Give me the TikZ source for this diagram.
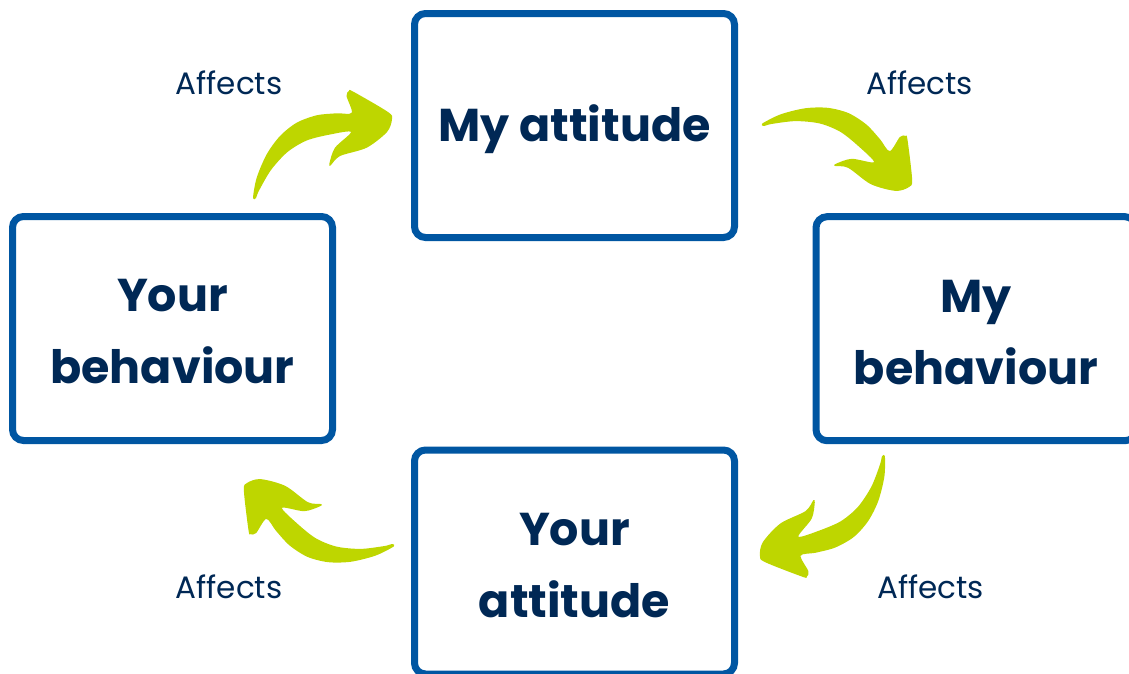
\documentclass[tikz,border=0pt]{standalone}
\usepackage{fontspec}
\setmainfont{Poppins}
\definecolor{boxblue}{HTML}{0056A2}
\definecolor{navy}{HTML}{002855}
\definecolor{leaf}{HTML}{BED600}
\begin{document}
\begin{tikzpicture}[x=1pt,y=-1pt,
  box/.style={draw=boxblue, line width=7pt, rounded corners=11pt,
    minimum width=320pt, minimum height=224pt, inner sep=0pt},
  boxtext/.style={align=center, text=navy, inner sep=0pt, yshift=-3.5pt,
    font=\fontsize{46}{72}\selectfont\bfseries},
  lbl/.style={text=navy, font=\fontsize{31}{36}\selectfont, inner sep=0pt},
  arrowfill/.style={fill=leaf}]
\useasboundingbox (0,0) rectangle (1129,673);
% the four boxes of the cycle
\node[box, label={[boxtext]center:My attitude}]       (myatt)   at (574.5,125.5) {};
\node[box, label={[boxtext]center:My\\behaviour}]     (mybeh)   at (976,328.7)   {};
\node[box, label={[boxtext]center:Your\\attitude}]    (youratt) at (574.5,562)   {};
\node[box, label={[boxtext]center:Your\\behaviour}]   (yourbeh) at (172.5,328.5) {};
% labels
\node[lbl] (l1) at (229,83)  {Affects};
\node[lbl] (l2) at (919.5,83) {Affects};
\node[lbl] (l3) at (930.5,587) {Affects};
\node[lbl] (l4) at (229,587) {Affects};
% curved arrow shape, tail at the origin
\def\curvedarrow{plot[smooth cycle, tension=0.5] coordinates {
  (0,1) (3.7,-19.3) (13.7,-42.7) (27,-61) (43.7,-74.3) (63.7,-81.7)
  (83.7,-83.7) (98.7,-84.3) (93.5,-101) (96,-106) (100,-105.5)
  (135,-85) (139,-78) (134,-65) (113.7,-49.3) (87,-41) (77.5,-31.5)
  (76.5,-34) (82,-49.3) (98,-65) (77,-62.5) (53.7,-56.5) (34.5,-45)
  (18,-27) (5.8,-6) (3,1)}}
\coordinate (t1) at (253,197);
\coordinate (t2) at (763,123);
\coordinate (t3) at (885,457);
\coordinate (t4) at (393,547);
\fill[arrowfill, shift={(t1)}] \curvedarrow;
\fill[arrowfill, shift={(t2)}, rotate=-53] \curvedarrow;
\fill[arrowfill, shift={(t3)}, rotate=-171] \curvedarrow;
\fill[arrowfill, shift={(t4)}, rotate=-233] \curvedarrow;
\end{tikzpicture}
\end{document}
